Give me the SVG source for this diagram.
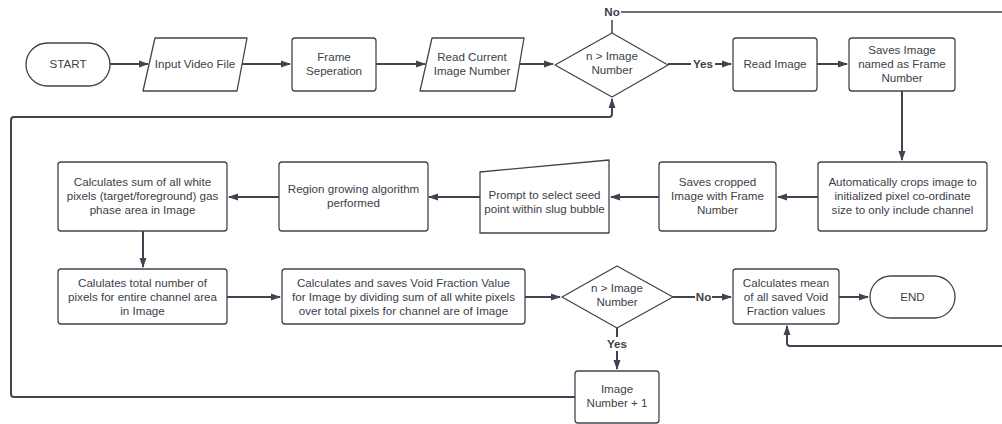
<svg xmlns="http://www.w3.org/2000/svg" width="1002" height="424" viewBox="0 0 1002 424">
<style>
.s{fill:#fff;stroke:#3f4550;stroke-width:1.3;stroke-linejoin:round}
.c{fill:none;stroke:#3f4550;stroke-width:2;stroke-linejoin:round}
.t{font-family:"Liberation Sans",Arial,sans-serif;font-size:11.6px;fill:#3a414a;text-anchor:middle}
.b{font-family:"Liberation Sans",Arial,sans-serif;font-size:11.6px;font-weight:bold;fill:#3a414a;text-anchor:middle}
</style>
<defs>
<marker id="ah" markerWidth="10" markerHeight="8" refX="9" refY="4" orient="auto" markerUnits="userSpaceOnUse">
<path d="M0,0.5 L10,4 L0,7.5 Z" fill="#3f4550"/>
</marker>
</defs>
<rect width="1002" height="424" fill="#fff"/>
<g id="connectors">
<path class="c" d="M110,64 H148" marker-end="url(#ah)"/>
<path class="c" d="M239,64 H290" marker-end="url(#ah)"/>
<path class="c" d="M376,64 H425" marker-end="url(#ah)"/>
<path class="c" d="M519,64 H553" marker-end="url(#ah)"/>
<path class="c" d="M668,64 H691 M715,64 H731" marker-end="url(#ah)"/>
<path class="c" d="M817,64 H847" marker-end="url(#ah)"/>
<path class="c" d="M902,91 V160" marker-end="url(#ah)"/>
<path class="c" d="M818,197 H778" marker-end="url(#ah)"/>
<path class="c" d="M659,197 H611" marker-end="url(#ah)"/>
<path class="c" d="M480,197 H429" marker-end="url(#ah)"/>
<path class="c" d="M279,197 H229" marker-end="url(#ah)"/>
<path class="c" d="M143,231 V267" marker-end="url(#ah)"/>
<path class="c" d="M227,297 H280" marker-end="url(#ah)"/>
<path class="c" d="M525,297 H560" marker-end="url(#ah)"/>
<path class="c" d="M673,297 H695 M712,297 H731" marker-end="url(#ah)"/>
<path class="c" d="M839,297 H868" marker-end="url(#ah)"/>
<path class="c" d="M617,328 V337 M617,351 V369" marker-end="url(#ah)"/>
<path class="c" d="M575,397 H14 Q11,397 11,394 V120 Q11,117 14,117 H609 Q612,117 612,114 V99" marker-end="url(#ah)"/>
<path class="c" style="stroke-width:1.5" d="M612,33 V20 M621,12 H1010"/>
<path class="c" d="M1010,346 H790 Q787,346 787,343 V326" marker-end="url(#ah)"/>
<text class="b" x="612" y="16">No</text>
<text class="b" x="703" y="68">Yes</text>
<text class="b" x="703.5" y="301">No</text>
<text class="b" x="617" y="348">Yes</text>
</g>
<g id="start">
<rect class="s" x="26" y="43" width="84" height="43" rx="21.5"/>
<text class="t" x="68" y="68">START</text>
</g>
<g id="input-video">
<path class="s" d="M155,38 H247 L237,91 H143 Z"/>
<text class="t" x="195" y="68">Input Video File</text>
</g>
<g id="frame-sep">
<rect class="s" x="292" y="38" width="84" height="53" rx="3"/>
<text class="t" x="334" y="61">Frame</text>
<text class="t" x="334" y="75">Seperation</text>
</g>
<g id="read-current">
<path class="s" d="M432,38 H524 L515,91 H420 Z"/>
<text class="t" x="472" y="61">Read Current</text>
<text class="t" x="472" y="75">Image Number</text>
</g>
<g id="decision1">
<path class="s" d="M612,33 L668,65 L612,97 L555,65 Z"/>
<text class="t" x="612" y="60">n &gt; Image</text>
<text class="t" x="612" y="74">Number</text>
</g>
<g id="read-image">
<rect class="s" x="733" y="38" width="84" height="53" rx="3"/>
<text class="t" x="775" y="68">Read Image</text>
</g>
<g id="saves-image">
<rect class="s" x="849" y="38" width="106" height="53" rx="3"/>
<text class="t" x="902" y="54">Saves Image</text>
<text class="t" x="902" y="68">named as Frame</text>
<text class="t" x="902" y="82">Number</text>
</g>
<g id="auto-crop">
<rect class="s" x="818" y="162" width="169" height="69" rx="3"/>
<text class="t" x="902.5" y="186">Automatically crops image to</text>
<text class="t" x="902.5" y="200">initialized pixel co-ordinate</text>
<text class="t" x="902.5" y="214">size to only include channel</text>
</g>
<g id="saves-cropped">
<rect class="s" x="659" y="162" width="117" height="69" rx="3"/>
<text class="t" x="717.5" y="186">Saves cropped</text>
<text class="t" x="717.5" y="200">Image with Frame</text>
<text class="t" x="717.5" y="214">Number</text>
</g>
<g id="prompt">
<path class="s" d="M480,172 L609,160 V233 H480 Z"/>
<text class="t" x="544.5" y="199">Prompt to select seed</text>
<text class="t" x="544.5" y="213">point within slug bubble</text>
</g>
<g id="region-growing">
<rect class="s" x="279" y="162" width="149" height="69" rx="3"/>
<text class="t" x="353.5" y="193">Region growing algorithm</text>
<text class="t" x="353.5" y="207">performed</text>
</g>
<g id="calc-sum">
<rect class="s" x="58" y="162" width="169" height="69" rx="3"/>
<text class="t" x="142.5" y="186">Calculates sum of all white</text>
<text class="t" x="142.5" y="200">pixels (target/foreground) gas</text>
<text class="t" x="142.5" y="214">phase area in Image</text>
</g>
<g id="calc-total">
<rect class="s" x="58" y="269" width="169" height="55" rx="3"/>
<text class="t" x="142.5" y="287">Calulates total number of</text>
<text class="t" x="142.5" y="301">pixels for entire channel area</text>
<text class="t" x="142.5" y="315">in Image</text>
</g>
<g id="calc-void">
<rect class="s" x="282" y="269" width="243" height="55" rx="3"/>
<text class="t" x="403.5" y="287">Calculates and saves Void Fraction Value</text>
<text class="t" x="403.5" y="301">for Image by dividing sum of all white pixels</text>
<text class="t" x="403.5" y="315">over total pixels for channel are of Image</text>
</g>
<g id="decision2">
<path class="s" d="M617,266 L673,297 L617,328 L562,297 Z"/>
<text class="t" x="617" y="292">n &gt; Image</text>
<text class="t" x="617" y="306">Number</text>
</g>
<g id="calc-mean">
<rect class="s" x="733" y="269" width="106" height="55" rx="3"/>
<text class="t" x="786" y="287">Calculates mean</text>
<text class="t" x="786" y="301">of all saved Void</text>
<text class="t" x="786" y="315">Fraction values</text>
</g>
<g id="end">
<rect class="s" x="870" y="276" width="85" height="42" rx="21"/>
<text class="t" x="912.5" y="301">END</text>
</g>
<g id="image-plus">
<rect class="s" x="575" y="371" width="84" height="52" rx="3"/>
<text class="t" x="617" y="393">Image</text>
<text class="t" x="617" y="407">Number + 1</text>
</g>
</svg>
